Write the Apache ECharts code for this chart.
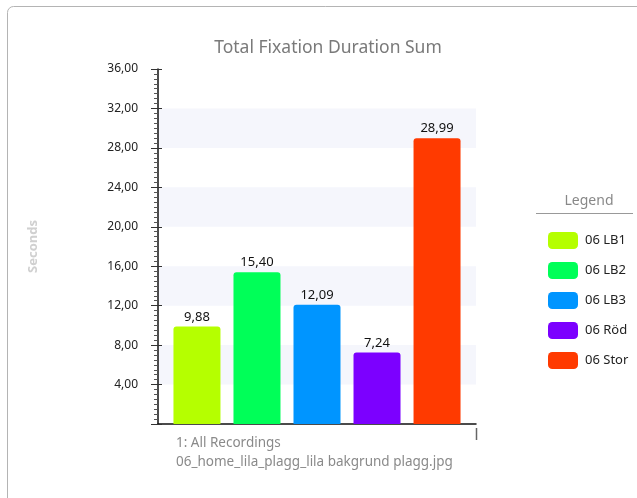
<!DOCTYPE html>
<html>
<head>
<meta charset="utf-8">
<script src="https://cdn.jsdelivr.net/npm/echarts@6/dist/echarts.min.js"></script>
<style>
  html, body { margin: 0; padding: 0; background: #fff; }
  #chart { width: 637px; height: 498px; }
</style>
</head>
<body>
<div id="chart"></div>
<script>
// Fixation totals per area of interest (seconds)
const seriesNames = ['06 LB1', '06 LB2', '06 LB3', '06 Röd', '06 Stor'];
const seriesValues = [9.88, 15.40, 12.09, 7.24, 28.99];
const seriesColors = ['#b5ff00', '#00ff58', '#0095ff', '#7c00ff', '#ff3a00'];
const categories = ['1: All Recordings'];
const captionLines = ['1: All Recordings', '06_home_lila_plagg_lila bakgrund plagg.jpg'];
const yMin = 0, yMax = 36, yStep = 4;

const FONT = "'Noto Sans', 'Open Sans', sans-serif";
const fmt = v => Number(v).toFixed(2).replace('.', ',');

const chart = echarts.init(document.getElementById('chart'), null, { renderer: 'canvas' });

const series = seriesNames.map((name, i) => ({
  name,
  type: 'bar',
  data: [seriesValues[i]],
  barWidth: 47,
  barGap: '27.7%',
  itemStyle: { color: seriesColors[i], borderRadius: [3, 3, 0, 0] },
  label: {
    show: true,
    position: 'top',
    distance: 3,
    formatter: p => fmt(p.value),
    color: '#111',
    fontSize: 13,
    fontFamily: FONT
  }
}));

const grid = { left: 158, top: 69, right: 161, bottom: 74 };

chart.setOption({
  backgroundColor: '#fff',
  animation: false,
  title: [{
    text: 'Total Fixation Duration Sum',
    left: 323, top: 34, textAlign: 'center',
    textStyle: { color: '#7a7a7a', fontSize: 17.5, fontWeight: 'normal', fontFamily: FONT }
  }, {
    text: 'Legend',
    left: 584, top: 189, textAlign: 'center',
    textStyle: { color: '#888', fontSize: 14, fontWeight: 'normal', fontFamily: FONT }
  }],
  legend: {
    orient: 'vertical',
    left: 543, top: 227,
    itemWidth: 30, itemHeight: 17, itemGap: 13,
    icon: 'roundRect',
    data: seriesNames,
    textStyle: { color: '#222', fontSize: 13, fontFamily: FONT, padding: [0, 0, 0, 2] }
  },
  grid,
  xAxis: {
    type: 'category',
    data: categories,
    axisLine: { lineStyle: { color: '#111', width: 1.5 } },
    axisTick: { show: false },
    axisLabel: { show: false }
  },
  yAxis: [{
    type: 'value',
    min: yMin, max: yMax, interval: yStep,
    name: 'Seconds',
    nameLocation: 'middle',
    nameGap: 118,
    nameTextStyle: { color: '#d0d0d0', fontSize: 13, fontWeight: 'bold', fontFamily: FONT },
    axisLine: { show: true, lineStyle: { color: '#111', width: 1.5 } },
    axisTick: { show: true, length: 7, lineStyle: { color: '#333' } },
    minorTick: { show: true, splitNumber: 8, length: 4, lineStyle: { color: '#555' } },
    axisLabel: {
      margin: 20, showMinLabel: false,
      formatter: fmt,
      color: '#222', fontSize: 12, fontFamily: FONT
    },
    splitLine: { show: false },
    splitArea: { show: true, areaStyle: { color: ['rgba(255,255,255,0)', '#f5f6fc'] } }
  }, {
    // inner half of the major ticks, so they cross the axis line
    type: 'value',
    position: 'left',
    min: yMin, max: yMax, interval: yStep,
    axisLine: { show: false },
    axisTick: { show: true, inside: true, length: 4, lineStyle: { color: '#333' } },
    axisLabel: { show: false },
    splitLine: { show: false }
  }],
  series,
  graphic: [
    {
      type: 'rect', silent: true, z: -1,
      shape: { x: 7.5, y: 6.5, width: 700, height: 600, r: 6 },
      style: { fill: 'none', stroke: '#b4b4b4', lineWidth: 1 }
    },
    {
      type: 'line', silent: true,
      shape: { x1: 536, y1: 213.5, x2: 633, y2: 213.5 },
      style: { stroke: '#999', lineWidth: 1 }
    },
    {
      type: 'line', silent: true,
      shape: { x1: 476.5, y1: 428, x2: 476.5, y2: 440 },
      style: { stroke: '#666', lineWidth: 1.5 }
    },
    {
      type: 'text', silent: true,
      left: 176, top: 434,
      style: {
        text: captionLines.join('\n'),
        fill: '#8a8a8a', fontSize: 13.5, fontFamily: FONT, lineHeight: 19
      }
    }
  ]
});
</script>
</body>
</html>
